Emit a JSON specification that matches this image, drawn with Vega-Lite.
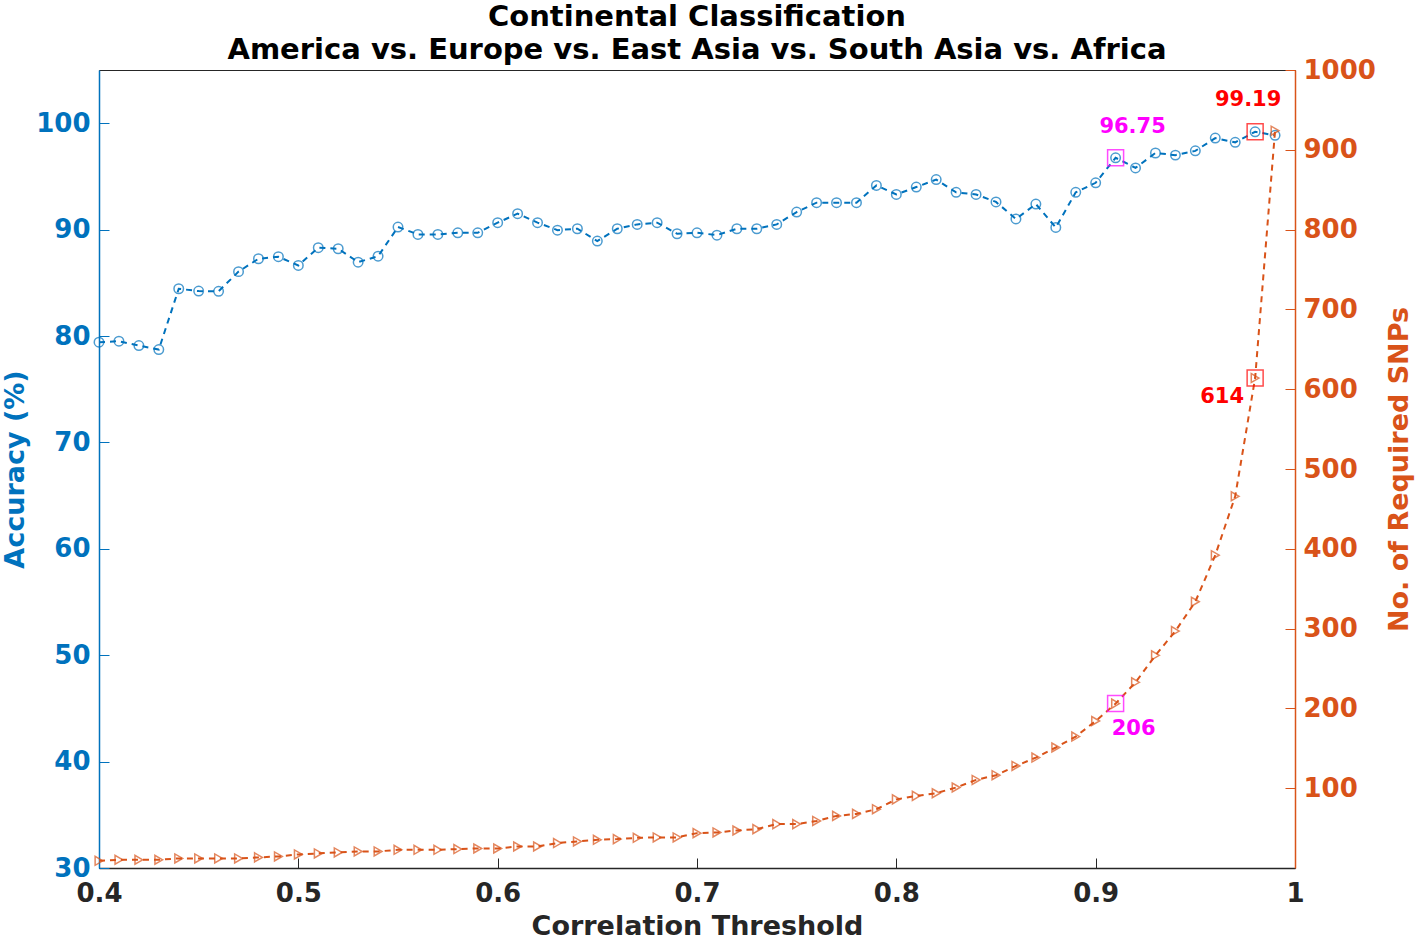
{
  "$schema": "https://vega.github.io/schema/vega-lite/v6.json",
  "width": 1196,
  "height": 798,
  "autosize": {"type": "none"},
  "padding": {"left": 99, "top": 70, "right": 123, "bottom": 72},
  "background": "white",
  "config": {
    "font": "DejaVu Sans",
    "view": {"stroke": "#262626", "strokeWidth": 1},
    "axis": {
      "grid": false,
      "labelFont": "DejaVu Sans",
      "labelFontSize": 26,
      "labelFontWeight": "bold",
      "labelFlush": false,
      "titleFont": "DejaVu Sans",
      "titleFontSize": 27,
      "titleFontWeight": "bold",
      "tickSize": -10,
      "tickWidth": 1,
      "domainWidth": 1.5
    }
  },
  "title": {
    "text": ["Continental Classification", "America vs. Europe vs. East Asia vs. South Asia vs. Africa"],
    "fontSize": 29,
    "fontWeight": "bold",
    "font": "DejaVu Sans",
    "color": "#000000",
    "lineHeight": 33,
    "frame": "group",
    "anchor": "middle",
    "offset": -8
  },
  "datasets": {
    "acc": [
      {"t": 0.40, "acc": 79.42}, {"t": 0.41, "acc": 79.51}, {"t": 0.42, "acc": 79.1}, {"t": 0.43, "acc": 78.73},
      {"t": 0.44, "acc": 84.44}, {"t": 0.45, "acc": 84.22}, {"t": 0.46, "acc": 84.2}, {"t": 0.47, "acc": 86.05},
      {"t": 0.48, "acc": 87.26}, {"t": 0.49, "acc": 87.45}, {"t": 0.50, "acc": 86.63}, {"t": 0.51, "acc": 88.3},
      {"t": 0.52, "acc": 88.2}, {"t": 0.53, "acc": 86.94}, {"t": 0.54, "acc": 87.5}, {"t": 0.55, "acc": 90.24},
      {"t": 0.56, "acc": 89.55}, {"t": 0.57, "acc": 89.55}, {"t": 0.58, "acc": 89.7}, {"t": 0.59, "acc": 89.7},
      {"t": 0.60, "acc": 90.65}, {"t": 0.61, "acc": 91.5}, {"t": 0.62, "acc": 90.65}, {"t": 0.63, "acc": 89.95},
      {"t": 0.64, "acc": 90.08}, {"t": 0.65, "acc": 88.92}, {"t": 0.66, "acc": 90.08}, {"t": 0.67, "acc": 90.49},
      {"t": 0.68, "acc": 90.65}, {"t": 0.69, "acc": 89.61}, {"t": 0.70, "acc": 89.7}, {"t": 0.71, "acc": 89.48},
      {"t": 0.72, "acc": 90.08}, {"t": 0.73, "acc": 90.08}, {"t": 0.74, "acc": 90.49}, {"t": 0.75, "acc": 91.65},
      {"t": 0.76, "acc": 92.53}, {"t": 0.77, "acc": 92.53}, {"t": 0.78, "acc": 92.53}, {"t": 0.79, "acc": 94.15},
      {"t": 0.80, "acc": 93.3}, {"t": 0.81, "acc": 94.0}, {"t": 0.82, "acc": 94.7}, {"t": 0.83, "acc": 93.5},
      {"t": 0.84, "acc": 93.3}, {"t": 0.85, "acc": 92.6}, {"t": 0.86, "acc": 91.0}, {"t": 0.87, "acc": 92.4},
      {"t": 0.88, "acc": 90.2}, {"t": 0.89, "acc": 93.5}, {"t": 0.90, "acc": 94.4}, {"t": 0.91, "acc": 96.75},
      {"t": 0.92, "acc": 95.8}, {"t": 0.93, "acc": 97.2}, {"t": 0.94, "acc": 97.0}, {"t": 0.95, "acc": 97.4},
      {"t": 0.96, "acc": 98.6}, {"t": 0.97, "acc": 98.2}, {"t": 0.98, "acc": 99.19}, {"t": 0.99, "acc": 98.86}
    ],
    "snp": [
      {"t": 0.40, "n": 9}, {"t": 0.41, "n": 10.3}, {"t": 0.42, "n": 10.3}, {"t": 0.43, "n": 10.3},
      {"t": 0.44, "n": 12}, {"t": 0.45, "n": 12}, {"t": 0.46, "n": 12}, {"t": 0.47, "n": 12},
      {"t": 0.48, "n": 13.3}, {"t": 0.49, "n": 14.5}, {"t": 0.50, "n": 17}, {"t": 0.51, "n": 18.3},
      {"t": 0.52, "n": 19.5}, {"t": 0.53, "n": 20.8}, {"t": 0.54, "n": 20.8}, {"t": 0.55, "n": 22.8},
      {"t": 0.56, "n": 22.8}, {"t": 0.57, "n": 22.8}, {"t": 0.58, "n": 23.7}, {"t": 0.59, "n": 24.5},
      {"t": 0.60, "n": 24.5}, {"t": 0.61, "n": 27}, {"t": 0.62, "n": 27}, {"t": 0.63, "n": 31.2},
      {"t": 0.64, "n": 33.3}, {"t": 0.65, "n": 35.3}, {"t": 0.66, "n": 36.2}, {"t": 0.67, "n": 37.8},
      {"t": 0.68, "n": 38.3}, {"t": 0.69, "n": 38.3}, {"t": 0.70, "n": 43.7}, {"t": 0.71, "n": 44.6},
      {"t": 0.72, "n": 47}, {"t": 0.73, "n": 48.7}, {"t": 0.74, "n": 55}, {"t": 0.75, "n": 55},
      {"t": 0.76, "n": 59}, {"t": 0.77, "n": 65.3}, {"t": 0.78, "n": 67.8}, {"t": 0.79, "n": 73.7},
      {"t": 0.80, "n": 86}, {"t": 0.81, "n": 90.4}, {"t": 0.82, "n": 93.7}, {"t": 0.83, "n": 100.9},
      {"t": 0.84, "n": 110.4}, {"t": 0.85, "n": 116.3}, {"t": 0.86, "n": 127.9}, {"t": 0.87, "n": 138.4},
      {"t": 0.88, "n": 151}, {"t": 0.89, "n": 164.7}, {"t": 0.90, "n": 184.2}, {"t": 0.91, "n": 206},
      {"t": 0.92, "n": 232.7}, {"t": 0.93, "n": 266.5}, {"t": 0.94, "n": 296.9}, {"t": 0.95, "n": 333.7},
      {"t": 0.96, "n": 392}, {"t": 0.97, "n": 465.8}, {"t": 0.98, "n": 614}, {"t": 0.99, "n": 924}
    ],
    "hl": [
      {"t": 0.91, "acc": 96.75, "n": 206, "c": "m", "accLabel": "96.75", "nLabel": "206"},
      {"t": 0.98, "acc": 99.19, "n": 614, "c": "r", "accLabel": "99.19", "nLabel": "614"}
    ]
  },
  "encoding": {
    "x": {
      "field": "t",
      "type": "quantitative",
      "scale": {"domain": [0.4, 1], "nice": false, "zero": false},
      "axis": {
        "title": "Correlation Threshold",
        "values": [0.4, 0.5, 0.6, 0.7, 0.8, 0.9, 1.0],
        "format": "~g",
        "labelColor": "#262626",
        "titleColor": "#262626",
        "domainColor": "#262626",
        "tickColor": "#262626",
        "labelPadding": 22,
        "titlePadding": 7
      }
    }
  },
  "layer": [
    {
      "encoding": {
        "y": {
          "field": "acc",
          "type": "quantitative",
          "scale": {"domain": [30, 105], "nice": false, "zero": false},
          "axis": {
            "orient": "left",
            "title": "Accuracy (%)",
            "values": [30, 40, 50, 60, 70, 80, 90, 100],
            "labelColor": "#0072BD",
            "titleColor": "#0072BD",
            "domainColor": "#0072BD",
            "tickColor": "#0072BD",
            "labelPadding": 19,
            "titlePadding": 6
          }
        }
      },
      "layer": [
        {"data": {"name": "acc"}, "mark": {"type": "line", "color": "#0072BD", "strokeWidth": 2, "strokeDash": [6, 5]}},
        {"data": {"name": "acc"}, "mark": {"type": "point", "shape": "circle", "filled": false, "size": 90, "strokeWidth": 1.5, "color": "#0072BD"}},
        {
          "data": {"name": "hl"},
          "mark": {"type": "point", "shape": "square", "filled": false, "size": 256, "strokeWidth": 1.5},
          "encoding": {"color": {"field": "c", "type": "nominal", "scale": {"domain": ["m", "r"], "range": ["#FF00FF", "#FF0000"]}, "legend": null}}
        },
        {
          "data": {"name": "hl"},
          "transform": [{"filter": "datum.c == 'm'"}],
          "mark": {"type": "text", "font": "DejaVu Sans", "fontSize": 21, "fontWeight": "bold", "color": "#FF00FF", "dx": 17, "dy": -31},
          "encoding": {"text": {"field": "accLabel"}}
        },
        {
          "data": {"name": "hl"},
          "transform": [{"filter": "datum.c == 'r'"}],
          "mark": {"type": "text", "font": "DejaVu Sans", "fontSize": 21, "fontWeight": "bold", "color": "#FF0000", "dx": -7, "dy": -32},
          "encoding": {"text": {"field": "accLabel"}}
        }
      ]
    },
    {
      "encoding": {
        "y": {
          "field": "n",
          "type": "quantitative",
          "scale": {"domain": [0, 1000], "nice": false, "zero": false},
          "axis": {
            "orient": "right",
            "title": "No. of Required SNPs",
            "titleAngle": 270,
            "format": "d",
            "values": [100, 200, 300, 400, 500, 600, 700, 800, 900, 1000],
            "labelColor": "#D95319",
            "titleColor": "#D95319",
            "domainColor": "#D95319",
            "tickColor": "#D95319",
            "labelPadding": 18,
            "titlePadding": 38
          }
        }
      },
      "layer": [
        {"data": {"name": "snp"}, "mark": {"type": "line", "color": "#D95319", "strokeWidth": 2, "strokeDash": [6, 5]}},
        {"data": {"name": "snp"}, "mark": {"type": "point", "shape": "triangle-right", "filled": false, "size": 80, "strokeWidth": 1.5, "color": "#D95319"}},
        {
          "data": {"name": "hl"},
          "mark": {"type": "point", "shape": "square", "filled": false, "size": 256, "strokeWidth": 1.5},
          "encoding": {"color": {"field": "c", "type": "nominal", "scale": {"domain": ["m", "r"], "range": ["#FF00FF", "#FF0000"]}, "legend": null}}
        },
        {
          "data": {"name": "hl"},
          "transform": [{"filter": "datum.c == 'm'"}],
          "mark": {"type": "text", "font": "DejaVu Sans", "fontSize": 21, "fontWeight": "bold", "color": "#FF00FF", "dx": 18, "dy": 25},
          "encoding": {"text": {"field": "nLabel"}}
        },
        {
          "data": {"name": "hl"},
          "transform": [{"filter": "datum.c == 'r'"}],
          "mark": {"type": "text", "font": "DejaVu Sans", "fontSize": 21, "fontWeight": "bold", "color": "#FF0000", "dx": -33, "dy": 19},
          "encoding": {"text": {"field": "nLabel"}}
        }
      ]
    }
  ],
  "resolve": {"scale": {"y": "independent"}}
}
